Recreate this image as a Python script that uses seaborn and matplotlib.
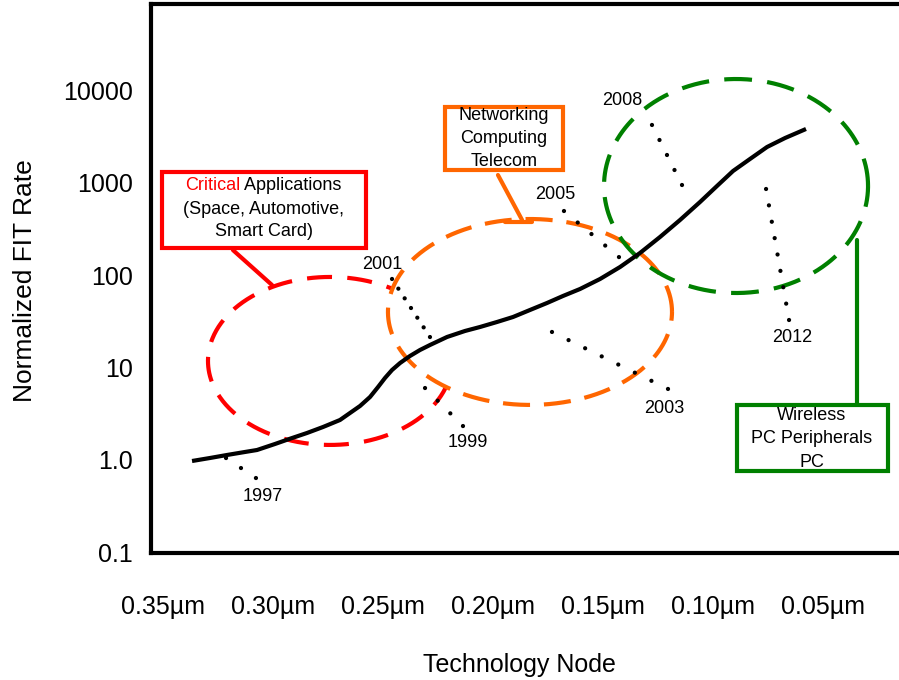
import matplotlib
matplotlib.use("Agg")
import numpy as np
import pandas as pd
import matplotlib.pyplot as plt
import seaborn as sns
from matplotlib.patches import Rectangle

# ---------------------------------------------------------------- data
node_labels = ["0.35µm", "0.30µm", "0.25µm", "0.20µm", "0.15µm", "0.10µm", "0.05µm"]
fit_ticks = [0.1, 1.0, 10, 100, 1000, 10000]
fit_tick_labels = ["0.1", "1.0", "10", "100", "1000", "10000"]

# FIT-rate trend; node position 0 = 0.35µm ... 6 = 0.05µm
trend_node = [0.264, 0.427, 0.582, 0.745, 0.855, 1.018, 1.155, 1.309, 1.455,
              1.609, 1.700, 1.791, 1.882, 1.955, 2.018, 2.082, 2.155, 2.245,
              2.336, 2.427, 2.582, 2.745, 2.882, 3.036, 3.182, 3.336, 3.491,
              3.636, 3.791, 3.973, 4.155, 4.336, 4.518, 4.700, 4.882, 5.036,
              5.182, 5.336, 5.491, 5.655, 5.845]
trend_fit = [0.975, 1.051, 1.133, 1.221, 1.283, 1.490, 1.700, 1.960, 2.276,
             2.710, 3.227, 3.841, 4.807, 6.166, 7.718, 9.419, 11.21, 13.35,
             15.50, 17.56, 21.44, 24.90, 27.51, 31.15, 35.29, 42.02, 50.03,
             59.56, 70.90, 90.97, 122.7, 173.9, 259.1, 395.8, 619.9, 923.3,
             1342, 1810, 2440, 3053, 3823]

# year markers with their dotted leaders
years = ["1997", "1999", "2001", "2003", "2005", "2008", "2012"]
year_label_node = [0.909, 2.773, 1.991, 4.555, 3.564, 4.173, 5.718]
year_label_fit = [0.398, 1.53, 129, 3.65, 738, 7870, 21.4]
leader_node_from = [0.573, 2.382, 2.082, 3.536, 3.645, 4.445, 5.482]
leader_fit_from = [1.05, 6.01, 91.0, 24.3, 495, 4225, 857]
leader_node_to = [0.845, 2.727, 2.427, 4.591, 4.145, 4.718, 5.691]
leader_fit_to = [0.638, 2.33, 21.4, 5.87, 157, 946, 32.7]
leader_dots = [3, 4, 7, 8, 5, 5, 9]

# application segments (ellipse centre, half width in nodes, half height in decades)
seg_node = [1.518, 3.336, 5.209]
seg_fit = [11.8, 40.0, 923]
seg_half_nodes = [1.109, 1.291, 1.20]
seg_half_decades = [0.909, 1.006, 1.158]

# ---------------------------------------------------------------- style
sns.set_style("white")
plt.rcParams["font.family"] = ["Liberation Sans", "DejaVu Sans"]
plt.rcParams["lines.scale_dashes"] = False
for key in ("text.color", "axes.labelcolor", "xtick.color", "ytick.color"):
    plt.rcParams[key] = "black"

RED, ORANGE, GREEN = "#FF0000", "#FF6600", "#008000"
seg_colors = [RED, ORANGE, GREEN]
seg_dashes = [(18, 11), (19.5, 10), (20, 11)]

fig = plt.figure(figsize=(8.99, 6.8), dpi=100)
ax = fig.add_axes([151 / 899, 1 - 553 / 680, (905 - 151) / 899, (553 - 4) / 680])
ax.set_yscale("log")
ax.set_xlim(-0.109, 6.745)
ax.set_ylim(0.0985, 86100)

# trend curve
trend = pd.DataFrame({"node": trend_node, "fit": trend_fit})
sns.lineplot(data=trend, x="node", y="fit", ax=ax, color="black", lw=3,
             sort=False, estimator=None, zorder=4,
             solid_joinstyle="round", solid_capstyle="butt")

# segment ellipses (networking one is filled white so it hides what lies below)
t = np.linspace(0, 2 * np.pi, 500)
for i in range(3):
    ex = seg_node[i] + seg_half_nodes[i] * np.cos(t)
    ey = 10 ** (np.log10(seg_fit[i]) + seg_half_decades[i] * np.sin(t))
    z = 2 + i * 0.3
    if i == 1:
        ax.fill(ex, ey, color="white", lw=0, zorder=z - 0.1)
    ax.plot(ex, ey, color=seg_colors[i], lw=3, linestyle=(0, seg_dashes[i]),
            dash_capstyle="butt", zorder=z)

# dotted year leaders and labels
for i, yr in enumerate(years):
    p0 = ax.transData.transform((leader_node_from[i], leader_fit_from[i]))
    p1 = ax.transData.transform((leader_node_to[i], leader_fit_to[i]))
    length_pt = np.hypot(*(p1 - p0)) * 72 / fig.dpi
    gap = length_pt / (leader_dots[i] - 1) - 0.01
    ax.plot([leader_node_from[i], leader_node_to[i]],
            [leader_fit_from[i], leader_fit_to[i]],
            color="black", lw=3.1, linestyle=(0, (0.005, gap)),
            dash_capstyle="round", zorder=5)
    ax.text(year_label_node[i], year_label_fit[i], yr, ha="center", va="center",
            fontsize=13, zorder=7)

# callout boxes
def callout(x0, x1, f0, f1, color):
    ax.add_patch(Rectangle((x0, f0), x1 - x0, f1 - f0, facecolor="white",
                           edgecolor=color, lw=3, zorder=6))

callout(-0.009, 1.845, 197, 1309, RED)
ax.plot([0.636, 0.991], [187, 78.3], color=RED, lw=3, zorder=6)
crit = ax.text(0.20, 946, "Critical", color=RED, fontsize=13, ha="left",
               va="center", zorder=7)
ax.annotate(" Applications", xy=(1, 0), xycoords=crit, ha="left", va="bottom",
            fontsize=13, color="black", zorder=7)
ax.text(0.918, 520, "(Space, Automotive,", ha="center", va="center", fontsize=13, zorder=7)
ax.text(0.918, 294, "Smart Card)", ha="center", va="center", fontsize=13, zorder=7)

callout(2.564, 3.636, 1376, 6607, ORANGE)
ax.plot([3.045, 3.264], [1214, 396], color=ORANGE, lw=3, zorder=6)
ax.plot([3.109, 3.355], [377, 377], color=ORANGE, lw=3, zorder=6)
for txt, f in zip(["Networking", "Computing", "Telecom"], [5285, 2979, 1680]):
    ax.text(3.10, f, txt, ha="center", va="center", fontsize=13, zorder=7)

callout(5.218, 6.591, 0.760, 3.94, GREEN)
ax.plot([6.309, 6.309], [240, 4.14], color=GREEN, lw=3, zorder=6)
for txt, f in zip(["Wireless", "PC Peripherals", "PC"], [3.00, 1.70, 0.94]):
    ax.text(5.90, f, txt, ha="center", va="center", fontsize=13, zorder=7)

# axes, ticks, labels
ax.set_xticks(range(len(node_labels)))
ax.set_xticklabels(node_labels, fontsize=18)
ax.set_yticks(fit_ticks)
ax.set_yticklabels(fit_tick_labels, fontsize=18)
ax.yaxis.set_minor_locator(matplotlib.ticker.NullLocator())
ax.tick_params(axis="both", length=0)
ax.tick_params(axis="y", pad=13)
ax.tick_params(axis="x", pad=30)

for sp in ax.spines.values():
    sp.set_visible(True)
    sp.set_color("black")
    sp.set_linewidth(3)

ax.set_xlabel("Technology Node", fontsize=18)
ax.xaxis.set_label_coords(0.489, -0.183)
ax.set_ylabel("Normalized FIT Rate", fontsize=19)
ax.yaxis.set_label_coords(-0.151, 0.497)

fig.savefig("out.png", dpi=100)
